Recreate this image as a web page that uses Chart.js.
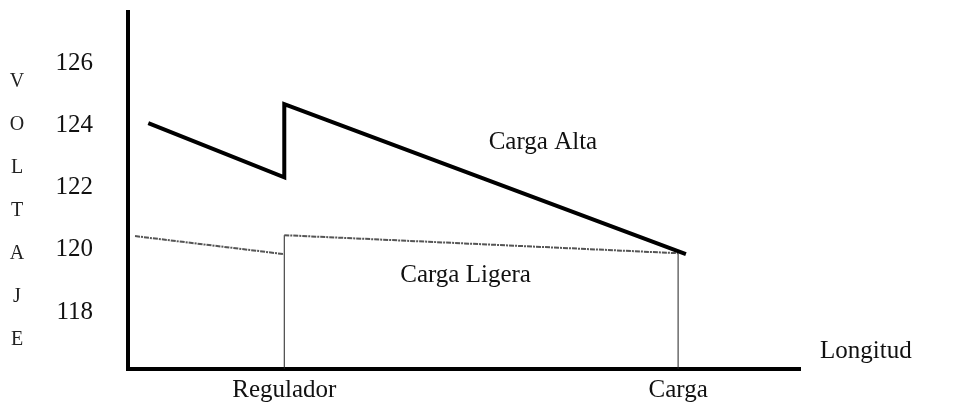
<!DOCTYPE html>
<html>
<head>
<meta charset="utf-8">
<script src="https://cdn.jsdelivr.net/npm/chart.js@4/dist/chart.umd.min.js"></script>
<style>
  html, body { margin: 0; padding: 0; background: #fff; }
  #wrap { width: 974px; height: 407px; position: relative; }
</style>
</head>
<body>
<div id="wrap"><canvas id="c"></canvas></div>
<script>
// tick labels
const yTicks = [118, 120, 122, 124, 126];
const xTickValues = [10, 35.2];
const xTickLabels = ['Regulador', 'Carga'];

// Carga Alta (heavy line)
const altaX = [1.3, 10, 10, 35.7];
const altaY = [124.07, 122.33, 124.68, 119.86];

// Carga Ligera (light line, gap at the regulator jump)
const ligeraX = [0.45, 10, 10, 10, 35.2];
const ligeraY = [120.44, 119.86, null, 120.47, 119.89];

// vertical markers at regulator and load
const markX = [10, 35.2];
const markTopY = [120.47, 119.89];

const Y_MIN = 116.17, Y_MAX = 127.64;
const X_MIN = 0, X_MAX = 43;

const zip = (xs, ys) => xs.map((x, i) => ({ x, y: ys[i] }));

const serif = '"Liberation Serif", "Times New Roman", serif';

const textPlugin = {
    id: 'labels',
    afterDraw(chart) {
        const { ctx, chartArea, scales: { x, y } } = chart;
        ctx.save();
        ctx.fillStyle = '#111';
        ctx.font = '25px ' + serif;
        ctx.textAlign = 'center';
        ctx.textBaseline = 'middle';
        ctx.fillText('Carga Alta', x.getPixelForValue(26.55), y.getPixelForValue(123.46));
        ctx.fillText('Carga Ligera', x.getPixelForValue(21.6), y.getPixelForValue(119.18));
        ctx.textAlign = 'left';
        ctx.fillText('Longitud', chartArea.right + 20, y.getPixelForValue(116.72));
        // vertical axis title, one letter per line
        ctx.font = '20px ' + serif;
        ctx.fillStyle = '#222';
        ctx.textAlign = 'center';
        'VOLTAJE'.split('').forEach((ch, i) => {
            ctx.fillText(ch, 17, 82 + i * 43);
        });
        ctx.restore();
    }
};

const lineDefaults = {
    showLine: true,
    pointRadius: 0,
    pointHoverRadius: 0,
    fill: false,
    tension: 0,
    borderCapStyle: 'butt',
    borderJoinStyle: 'miter'
};

const noPad = s => { s.paddingTop = 0; s.paddingBottom = 0; s.paddingLeft = 0; s.paddingRight = 0; };

new Chart(document.getElementById('c'), {
    type: 'scatter',
    data: {
        datasets: [
            Object.assign({}, lineDefaults, {
                label: 'Carga Alta',
                data: zip(altaX, altaY),
                borderColor: '#000',
                borderWidth: 4
            }),
            Object.assign({}, lineDefaults, {
                label: 'Carga Ligera',
                data: zip(ligeraX, ligeraY),
                borderColor: '#555',
                borderWidth: 2,
                borderDash: [5, 1, 2, 1],
                spanGaps: false
            }),
            Object.assign({}, lineDefaults, {
                label: 'Regulador',
                data: [{ x: markX[0], y: Y_MIN }, { x: markX[0], y: markTopY[0] }],
                borderColor: '#222',
                borderWidth: 1
            }),
            Object.assign({}, lineDefaults, {
                label: 'Carga',
                data: [{ x: markX[1], y: Y_MIN }, { x: markX[1], y: markTopY[1] }],
                borderColor: '#222',
                borderWidth: 1
            })
        ]
    },
    options: {
        responsive: true,
        maintainAspectRatio: false,
        animation: false,
        layout: { padding: { left: 0, top: 12, right: 174, bottom: 0 } },
        plugins: {
            legend: { display: false },
            tooltip: { enabled: false }
        },
        scales: {
            x: {
                type: 'linear',
                min: X_MIN,
                max: X_MAX,
                grid: { display: false, drawTicks: false },
                border: { display: true, color: '#000', width: 4 },
                afterBuildTicks: s => { s.ticks = xTickValues.map(v => ({ value: v })); },
                afterFit: s => { s.height = 38; noPad(s); },
                ticks: {
                    padding: 6,
                    color: '#111',
                    font: { family: serif, size: 25 },
                    maxRotation: 0,
                    autoSkip: false,
                    callback: v => xTickLabels[xTickValues.indexOf(v)]
                }
            },
            y: {
                type: 'linear',
                min: Y_MIN,
                max: Y_MAX,
                grid: { display: false, drawTicks: false },
                border: { display: true, color: '#000', width: 4 },
                afterBuildTicks: s => { s.ticks = yTicks.map(v => ({ value: v })); },
                afterFit: s => { s.width = 128; noPad(s); },
                ticks: {
                    padding: 35,
                    color: '#111',
                    font: { family: serif, size: 25 },
                    callback: v => String(v)
                }
            }
        }
    },
    plugins: [textPlugin]
});
</script>
</body>
</html>
